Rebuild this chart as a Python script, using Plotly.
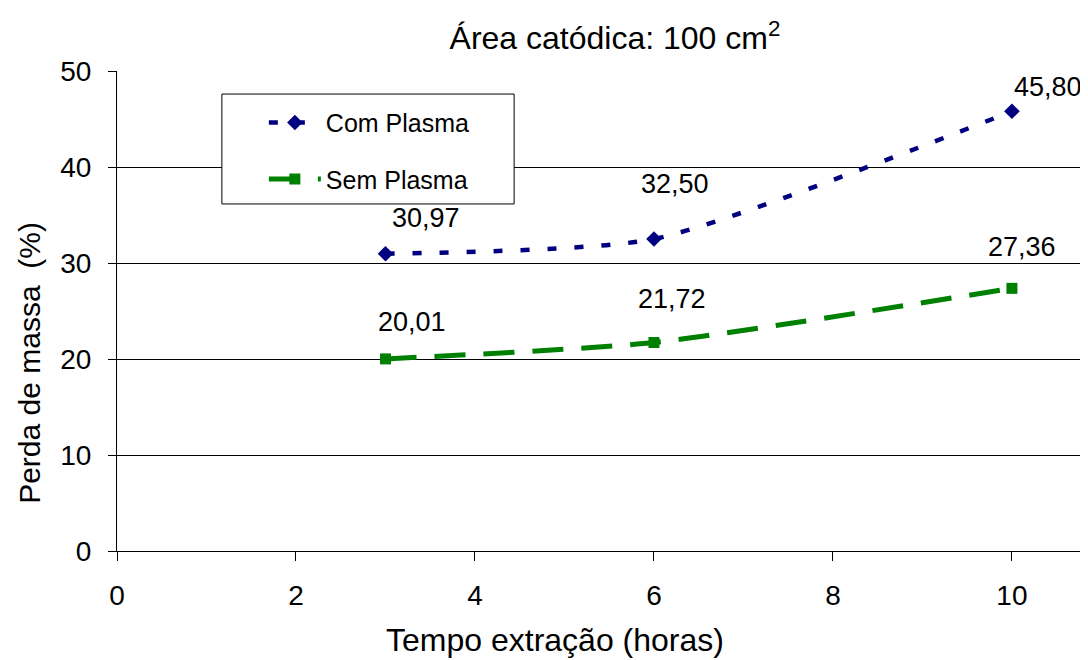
import plotly.graph_objects as go

horas = [3, 6, 10]
com_plasma = [30.97, 32.50, 45.80]
sem_plasma = [20.01, 21.72, 27.36]
com_labels = ["30,97", "32,50", "45,80"]
sem_labels = ["20,01", "21,72", "27,36"]
x_ticks = [0, 2, 4, 6, 8, 10]
y_ticks = [0, 10, 20, 30, 40, 50]

FONT = "Liberation Sans, Arial, sans-serif"

fig = go.Figure()
fig.add_trace(go.Scatter(
    x=horas, y=com_plasma, name="Com Plasma", mode="lines+markers", legendgroup="a",
    line=dict(color="#000080", width=4.5, dash="9px,18px", shape="spline", smoothing=0.6),
    marker=dict(symbol="diamond", size=12, color="#000080"),
))
fig.add_trace(go.Scatter(
    x=horas, y=sem_plasma, name="Sem Plasma", mode="lines+markers", legendgroup="b",
    line=dict(color="#008000", width=5, dash="31px,18px", shape="spline", smoothing=0.6),
    marker=dict(symbol="square", size=11, color="#008000"),
))

com_shift = [(41, 36), (21, 55), (36, 24)]
sem_shift = [(27, 37), (18, 43), (10, 41)]
for xv, yv, t, (dx, dy) in zip(horas, com_plasma, com_labels, com_shift):
    fig.add_annotation(x=xv, y=yv, text=t, showarrow=False, xshift=dx, yshift=dy,
                       font=dict(size=27, color="black", family=FONT))
for xv, yv, t, (dx, dy) in zip(horas, sem_plasma, sem_labels, sem_shift):
    fig.add_annotation(x=xv, y=yv, text=t, showarrow=False, xshift=dx, yshift=dy,
                       font=dict(size=27, color="black", family=FONT))

# axis titles (placed as annotations to match the off-centre positions)
fig.add_annotation(text="Tempo extração (horas)", xref="paper", yref="paper",
                   x=0.451, y=-0.185, xanchor="center", yanchor="middle",
                   showarrow=False, font=dict(size=32, color="black", family=FONT))
fig.add_annotation(text="Perda de massa  (%)", xref="paper", yref="paper",
                   x=-0.0896, y=0.392, xanchor="center", yanchor="middle", textangle=-90,
                   showarrow=False, font=dict(size=30, color="black", family=FONT))

# legend frame
fig.add_shape(type="rect", xref="paper", yref="paper", x0=0.108, x1=0.409,
              y0=0.723, y1=0.952, line=dict(color="black", width=1),
              fillcolor="white", layer="above")

fig.update_layout(
    width=1080, height=652,
    margin=dict(l=109, r=0, t=63, b=109),
    paper_bgcolor="white", plot_bgcolor="white",
    font=dict(family=FONT, color="black"),
    title=dict(text="Área catódica: 100 cm<sup>2</sup>", x=0.562, xanchor="center",
               y=0.954, yanchor="middle", font=dict(size=32, color="black")),
    showlegend=True,
    legend=dict(x=0.108, y=0.94, xanchor="left", yanchor="top",
                borderwidth=0, bgcolor="rgba(0,0,0,0)",
                font=dict(size=25, color="black"), tracegroupgap=21,
                traceorder="grouped", itemwidth=52, indentation=42),
    xaxis=dict(range=[0, 10.85], tickvals=x_ticks, showgrid=False, zeroline=False,
               showline=True, linecolor="black", linewidth=1,
               ticks="outside", ticklen=9, tickcolor="black", ticklabelstandoff=10,
               tickfont=dict(size=28)),
    yaxis=dict(range=[0, 50], tickvals=y_ticks, showgrid=True, gridcolor="black",
               gridwidth=1, zeroline=False, showline=True, linecolor="black",
               linewidth=1, ticks="outside", ticklen=8, tickcolor="black",
               ticklabelstandoff=11, tickfont=dict(size=28)),
)

fig.write_html("out.html")
